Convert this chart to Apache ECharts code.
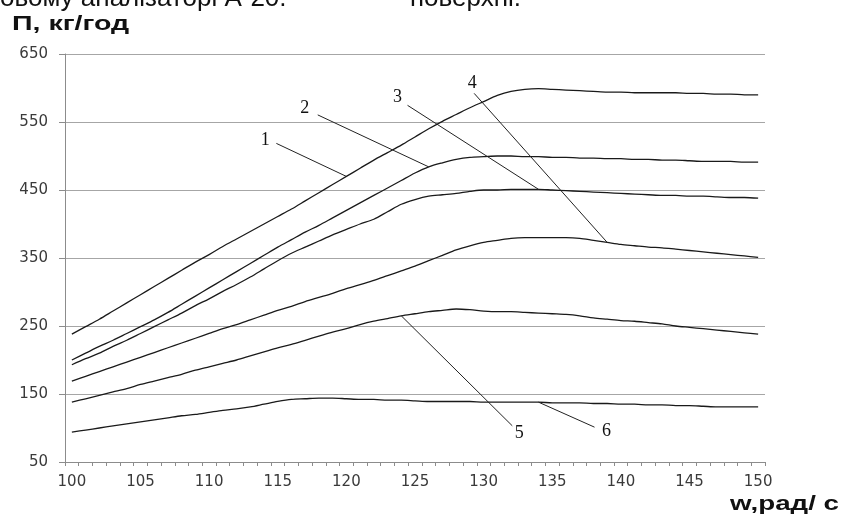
<!DOCTYPE html>
<html>
<head>
<meta charset="utf-8">
<script src="https://cdn.jsdelivr.net/npm/echarts@6/dist/echarts.min.js"></script>
<style>
html,body{margin:0;padding:0;background:#fff;}
#c{width:848px;height:518px;}
</style>
</head>
<body>
<div id="c"></div>
<script>
// categories: w, рад/с
const categories = [];
for (let w = 100; w <= 150; w++) categories.push(String(w));

// tick labels of the y axis
const yTicks = [50, 150, 250, 350, 450, 550, 650];

// curve values (П, кг/год), w = 100..150
const curve1 = [238,249,260,272,284,296,308,320,332,344,355,367,378,389,400,411,422,434,446,458,470,482,494,505,516,528,540,551,561,571,580,589,595,598,599,598,597,596,595,594,594,593,593,593,593,592,592,591,591,590,590];
const curve2 = [200,210,220,229,239,249,259,270,282,294,306,318,330,342,354,366,377,388,398,409,420,431,442,453,464,475,484,490,495,498,499,500,500,499,499,498,498,497,497,496,496,495,495,494,494,493,492,492,492,491,491];
const curve3 = [193,202,210,220,229,239,249,259,269,280,290,301,311,322,334,346,357,366,375,384,392,400,407,418,429,436,441,443,445,448,450,450,451,451,451,450,449,448,447,446,445,444,443,442,442,441,441,440,439,439,438];
const curve4 = [169,176,183,190,197,204,211,218,225,232,239,246,252,259,266,273,279,286,292,298,305,311,317,324,331,338,346,354,362,368,373,376,379,380,380,380,380,379,376,373,370,368,366,365,363,361,359,357,355,353,351];
const curve5 = [138,143,148,153,158,164,169,174,179,185,190,195,200,206,212,218,223,229,235,241,246,252,257,261,265,268,271,273,275,274,272,271,271,270,269,268,267,265,262,260,258,257,255,253,250,248,246,244,242,240,238];
const curve6 = [94,97,100,103,106,109,112,115,118,120,123,126,128,131,135,139,142,143,144,144,143,142,142,141,141,140,139,139,139,139,138,138,138,138,138,137,137,137,136,136,135,135,134,134,133,133,132,131,131,131,131];

const curves = [curve1, curve2, curve3, curve4, curve5, curve6];
const curveNames = ['1', '2', '3', '4', '5', '6'];

// annotations: label, curve index, category where leader touches the curve
const annLabels = ['1', '2', '3', '4', '5', '6'];
const annCurve = [0, 1, 2, 3, 4, 5];
const annCategory = ['120', '126', '134', '139', '124', '134'];

const chart = echarts.init(document.getElementById('c'), null, {renderer: 'canvas'});

const series = curves.map((d, i) => ({
  name: curveNames[i],
  type: 'line',
  data: d,
  symbol: 'none',
  smooth: 0.3,
  lineStyle: {color: '#1a1a1a', width: 1.3},
  silent: true,
  z: 3
}));

chart.setOption({
  animation: false,
  backgroundColor: '#fff',
  grid: {left: 65, right: 83, top: 54, bottom: 56},
  xAxis: {
    type: 'category',
    data: categories,
    boundaryGap: true,
    axisLine: {lineStyle: {color: '#8c8c8c', width: 1}},
    axisTick: {show: true, interval: 0, length: 4, lineStyle: {color: '#8c8c8c'}},
    axisLabel: {
      interval: (idx, val) => (Number(val) % 5 === 0),
      color: '#3a3a3a', fontFamily: 'DejaVu Sans', fontSize: 15, margin: 13
    },
    splitLine: {show: false}
  },
  yAxis: {
    type: 'value',
    min: yTicks[0],
    max: yTicks[yTicks.length - 1],
    interval: 100,
    axisLine: {show: true, lineStyle: {color: '#8c8c8c', width: 1}},
    axisTick: {show: true, length: 6, lineStyle: {color: '#8c8c8c'}},
    axisLabel: {color: '#3a3a3a', fontFamily: 'DejaVu Sans', fontSize: 15, margin: 17},
    splitLine: {show: true, lineStyle: {color: '#a6a6a6', width: 1}}
  },
  series: series
});

// leader-line geometry relative to the anchor point on the curve (pixels)
const annLeadDx = [-70, -111, -131, -133, 111, 56];
const annLeadDy = [-33, -52, -84, -149, 110, 25];
const annTextDx = [-11, -13, -10, -2, 7, 12];
const annTextDy = [-3, -7, -8, -10, 7, 4];

const graphics = [
  {type: 'text', left: 0, top: -14, style: {text: 'овому аналізаторі А-20.', font: '26px "Liberation Sans"', fill: '#111'}, z: 10},
  {type: 'text', left: 410, top: -14, style: {text: 'поверхні.', font: '26px "Liberation Sans"', fill: '#111'}, z: 10},
  {type: 'text', x: 12, y: 14, scaleX: 1.36, style: {text: 'П, кг/год', font: 'bold 21px "Liberation Sans"', fill: '#111', verticalAlign: 'top'}, z: 10},
  {type: 'text', x: 730, y: 494, scaleX: 1.32, style: {text: 'w,рад/ с', font: 'bold 21px "Liberation Sans"', fill: '#111', verticalAlign: 'top'}, z: 10}
];

annLabels.forEach((lab, i) => {
  const ci = annCurve[i];
  const idx = categories.indexOf(annCategory[i]);
  const p = chart.convertToPixel({seriesIndex: ci}, [idx, curves[ci][idx]]);
  const fx = p[0] + annLeadDx[i], fy = p[1] + annLeadDy[i];
  graphics.push({
    type: 'line', silent: true, z: 5,
    shape: {x1: p[0], y1: p[1], x2: fx, y2: fy},
    style: {stroke: '#222', lineWidth: 1}
  });
  graphics.push({
    type: 'text', silent: true, z: 6,
    x: fx + annTextDx[i], y: fy + annTextDy[i],
    style: {text: lab, font: '18px "Liberation Serif"', fill: '#111', align: 'center', verticalAlign: 'middle'}
  });
});

chart.setOption({graphic: graphics});
</script>
</body>
</html>
